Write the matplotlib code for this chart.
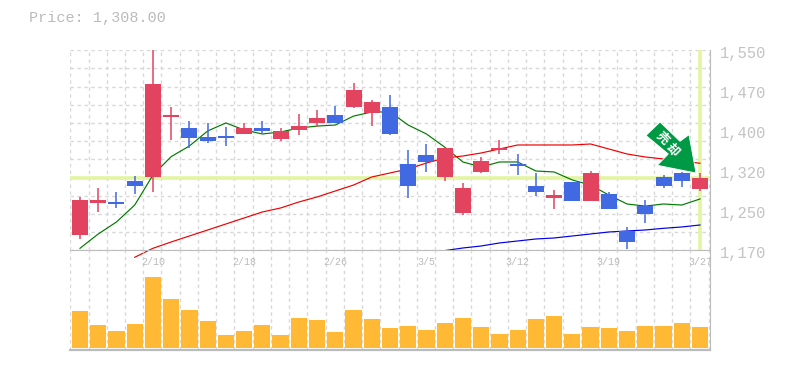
import matplotlib
matplotlib.use("Agg")
import matplotlib.pyplot as plt
from matplotlib.patches import Polygon
from matplotlib.transforms import Affine2D

WIDTH, HEIGHT = 785, 370
STEP = 18.235

UP_COLOR = '#e2445f'
DOWN_COLOR = '#4169e1'
GRID_COLOR = '#d8d8d8'
AXIS_COLOR = '#bbbbbb'
TEXT_COLOR = '#bbbbbb'
MARK_COLOR = '#e2f5a0'

opens = [1199, 1260, 1261.8, 1301.7, 1309.3, 1423.3, 1402.4, 1385.3, 1387.2, 1391, 1402.4, 1381.5,
         1398.6, 1412, 1427, 1442.3, 1430.9, 1442.3, 1334, 1351, 1309.3, 1240.9, 1318.8, 1360.6,
         1334, 1292.2, 1269.4, 1299.8, 1263.7, 1277, 1206.7, 1254, 1309.3, 1317, 1286.5]
closes = [1265.6, 1265.6, 1258, 1292.2, 1486, 1427, 1383.4, 1377.7, 1383.4, 1402.4, 1396.7, 1396.7,
          1406, 1421.4, 1412, 1474.6, 1451.8, 1391, 1292.2, 1337.8, 1364.4, 1288.4, 1339.7, 1364.4,
          1330.2, 1280.8, 1275, 1263.7, 1316.9, 1248.5, 1185.8, 1239, 1292.2, 1301.7, 1308]
highs = [1271, 1288.4, 1280.8, 1311.2, 1550, 1442.3, 1415.7, 1411.9, 1404, 1411.9, 1415.7, 1402.4,
         1429, 1436.6, 1444, 1488, 1455.6, 1465, 1360.6, 1372, 1366, 1298, 1347.3, 1379.6,
         1353, 1316.9, 1284.6, 1299.8, 1320.7, 1280.8, 1214.3, 1265.6, 1313, 1319, 1316.9]
lows = [1191.5, 1242.8, 1250.4, 1277, 1280.8, 1379.6, 1364.4, 1374, 1368.2, 1391, 1393, 1377.7,
        1389, 1404.3, 1412, 1440.4, 1406, 1389, 1269.4, 1318.8, 1301.7, 1237, 1316.9, 1353,
        1313, 1273.2, 1248.5, 1263.7, 1263.7, 1248.5, 1172.5, 1222, 1288.4, 1290.3, 1282.7]

ma_short = [1173.8, 1201, 1223.8, 1256, 1313, 1348, 1368.2, 1396.7, 1412, 1398.6, 1391, 1394.8,
            1402.4, 1406, 1408, 1425, 1432.8, 1432.8, 1408, 1391, 1366, 1337.8, 1328.3, 1337.8,
            1337.8, 1320.7, 1318.8, 1303.6, 1294, 1275, 1258, 1254, 1258, 1256, 1267.5]
ma_mid = [1156.7, 1173.8, 1185.8, 1197.2, 1208.6, 1220, 1231.4, 1242.8, 1250.4, 1261.8, 1271.3,
          1282.7, 1294, 1309.3, 1316.9, 1324.5, 1335.9, 1345.4, 1349.2, 1354.9, 1362.5, 1370.1,
          1370.1, 1370.1, 1370.1, 1372, 1362.5, 1353, 1347.3, 1343.5, 1339.7, 1335.3]
ma_long = [1169.4, 1174.4, 1178.2, 1183.9, 1187.7, 1191.5, 1193.4, 1197.2, 1201, 1204.8, 1206.7,
           1208.6, 1211.8, 1214.3, 1218.1]

volumes = [37, 23, 17, 24, 71, 49, 38, 27, 13, 17, 23, 13, 30, 28, 16, 38, 29, 20, 22, 18,
           25, 30, 21, 14, 18, 29, 32, 14, 21, 20, 17, 22, 22, 25, 21]

price_ticks = [1550, 1470, 1400, 1320, 1250, 1170]
date_positions = [4, 9, 14, 19, 24, 29, 34]
date_labels = ['2/10', '2/18', '2/26', '3/5', '3/12', '3/19', '3/27']
last_price = 1308


def px_axes(left, top, right, bottom):
    return [left / WIDTH, 1 - bottom / HEIGHT, (right - left) / WIDTH, (bottom - top) / HEIGHT]


fig = plt.figure(figsize=(WIDTH / 100, HEIGHT / 100), dpi=100, facecolor='white')
ax = fig.add_axes(px_axes(70.3, 50.3, 710, 250.3))
vol_ax = fig.add_axes(px_axes(70.3, 250.3, 710, 349.5))

days = list(range(len(closes)))
xlim = (-9.7 / STEP, 630 / STEP)
xgrid = [i - 9.7 / STEP for i in range(36)]

# price panel
ax.set_xlim(xlim)
ax.set_ylim(1170, 1550)
ax.set_facecolor('none')
for i in xgrid:
    ax.axvline(i, color=GRID_COLOR, lw=1, ls=(0, (2.5, 2.5)), zorder=0)
    vol_ax.axvline(i, color=GRID_COLOR, lw=1, ls=(0, (2.5, 2.5)), zorder=0)
for k in range(12):
    ax.axhline(1170 + k * 380 / 11, color=GRID_COLOR, lw=1, ls=(0, (2.5, 2.5)), zorder=0)

ax.axhline(last_price, color=MARK_COLOR, lw=2.6, zorder=1)
ax.axvline(days[-1], color=MARK_COLOR, lw=2.6, zorder=1)

ax.plot(days, ma_short, color='#007a00', lw=0.85, zorder=2)
ax.plot(days[3:], ma_mid, color='#f00000', lw=0.85, zorder=2, clip_on=False)
ax.plot(days[20:], ma_long, color='#0000e6', lw=0.85, zorder=2)

for i in days:
    color = UP_COLOR if closes[i] >= opens[i] else DOWN_COLOR
    ax.vlines(i, lows[i], highs[i], color=color, lw=1.1, zorder=3)
    ax.bar(i, abs(closes[i] - opens[i]), bottom=min(opens[i], closes[i]), width=16 / STEP,
           color=color, linewidth=0, zorder=3)

ax.set_xticks([])
ax.set_yticks([])
for value, y_px in zip(price_ticks, [53, 93, 133, 173, 213, 253]):
    fig.text(720 / WIDTH, 1 - (y_px + 0.5) / HEIGHT, f'{value:,}', family='Liberation Mono',
             fontsize=11.2, color='#c4c4c4', ha='left', va='center')
for side in ['top', 'left']:
    ax.spines[side].set_visible(False)
ax.spines['right'].set_color(AXIS_COLOR)
ax.spines['bottom'].set_color(AXIS_COLOR)
ax.spines['bottom'].set_zorder(2)

# volume panel
vol_ax.set_xlim(xlim)
vol_ax.set_ylim(-1.5, 97.7)
vol_ax.set_facecolor('none')
vol_ax.bar(days, volumes, width=16.2 / STEP, color='#ffb935', linewidth=0, zorder=2)
vol_ax.set_xticks([])
vol_ax.set_yticks([])
for side in ['top', 'left']:
    vol_ax.spines[side].set_visible(False)
vol_ax.spines['right'].set_color(AXIS_COLOR)
vol_ax.spines['bottom'].set_color(AXIS_COLOR)
vol_ax.spines['bottom'].set_linewidth(1.6)

for pos, label in zip(date_positions, date_labels):
    vol_ax.text(pos, 1 - 12 / 99.2, label, transform=vol_ax.get_xaxis_transform(),
                family='Liberation Mono', fontsize=7.2, color=TEXT_COLOR, ha='center', va='center',
                zorder=1, clip_on=False)

fig.text(29 / WIDTH, 1 - 18 / HEIGHT, f'Price: {last_price:,.2f}', family='Liberation Mono',
         fontsize=10.9, color=TEXT_COLOR, ha='left', va='center')

# signal arrow, placed in pixels
to_px = Affine2D().scale(1, -1).translate(0, HEIGHT)
arrow = Polygon([(646, 135.5), (660, 122), (680, 141.3), (689, 134.7), (696, 173),
                 (657.3, 165.3), (668.3, 154)], closed=True, facecolor='#009944', edgecolor='white',
                linewidth=0.6, transform=to_px, zorder=10)
fig.add_artist(arrow)
for ch, cx, cy in [('売', 662.3, 138), ('却', 672.3, 150.3)]:
    fig.text(cx / WIDTH, 1 - cy / HEIGHT, ch, family=['Noto Sans CJK JP', 'DejaVu Sans'],
             fontweight='bold', fontsize=9, color='white', rotation=-45, ha='center', va='center',
             rotation_mode='anchor', zorder=11)

fig.savefig('out.png', dpi=100, facecolor='white')
